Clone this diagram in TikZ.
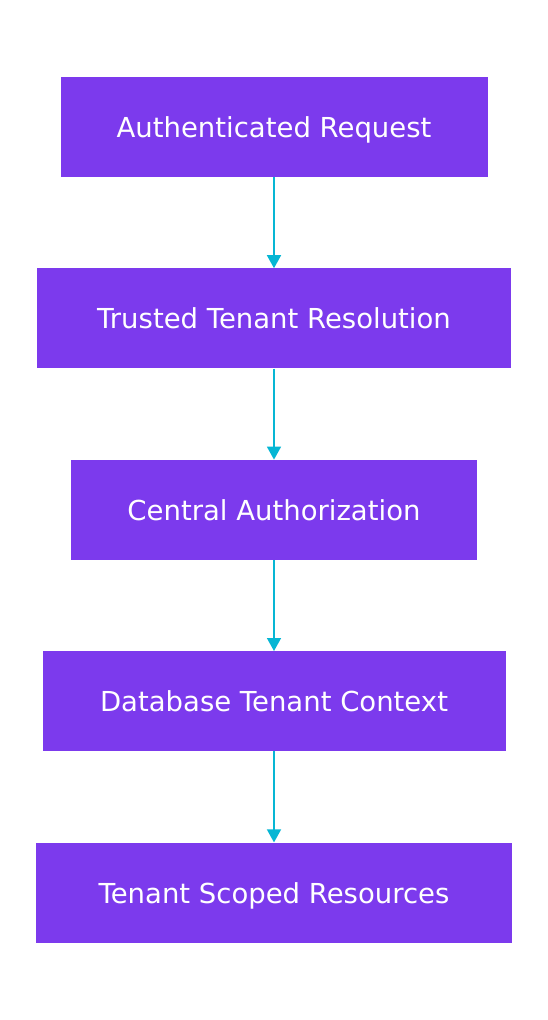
\documentclass[tikz,border=0pt]{standalone}
\usepackage{fontspec}
\setmainfont{DejaVu Sans}
\usetikzlibrary{positioning,arrows.meta}

\definecolor{stepviolet}{HTML}{7C3AED}
\definecolor{flowcyan}{HTML}{06B6D4}

\tikzset{
    stagebox/.style={fill=stepviolet, text=white, minimum height=100pt,
        inner xsep=0pt, text depth=0pt, font=\fontsize{27.5}{32}\selectfont},
    flow/.style={draw=flowcyan, line width=1.5pt,
        -{Triangle[length=13pt,width=14pt]}}
}

\begin{document}
\begin{tikzpicture}[x=1pt,y=-1pt, node distance=91pt]
    \useasboundingbox (0,0) rectangle (548,1020);
    \node[stagebox, minimum width=427pt] (request) at (274,127) {Authenticated Request};
    \node[stagebox, minimum width=474pt, below=of request] (resolve) {Trusted Tenant Resolution};
    \node[stagebox, minimum width=406pt, below=of resolve] (authz) {Central Authorization};
    \node[stagebox, minimum width=463pt, below=of authz] (dbctx) {Database Tenant Context};
    \node[stagebox, minimum width=476pt, below=of dbctx] (scoped) {Tenant Scoped Resources};

    \draw[flow] (request) -- (resolve);
    \draw[flow] (resolve) -- (authz);
    \draw[flow] (authz) -- (dbctx);
    \draw[flow] (dbctx) -- (scoped);
\end{tikzpicture}
\end{document}
